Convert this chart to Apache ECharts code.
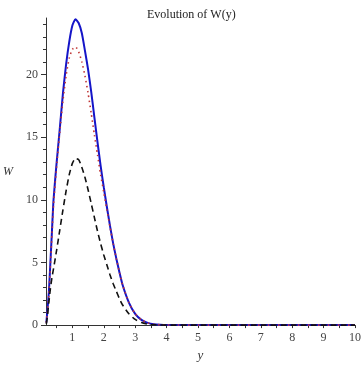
<!DOCTYPE html>
<html>
<head>
<meta charset="utf-8">
<script src="https://cdn.jsdelivr.net/npm/echarts@6/dist/echarts.min.js"></script>
<style>html,body{margin:0;padding:0;background:#fff}#c{width:364px;height:367px}</style>
</head>
<body>
<div id="c"></div>
<script>
var xs = [0.17,0.2,0.25,0.3,0.35,0.4,0.5,0.6,0.7,0.8,0.9,1.0,1.1,1.2,1.3,1.4,1.5,1.6,1.7,1.8,1.9,2.0,2.1,2.2,2.3,2.4,2.5,2.6,2.8,3.0,3.2,3.4,3.6,3.8,4.0,5,6,7,8,9,10];
var blueW = [0.2,1.0,2.6,5.0,7.5,10.0,13.0,15.7,18.5,20.8,22.6,23.9,24.4,24.1,23.3,21.9,20.4,18.6,16.6,14.6,12.7,11.0,9.4,7.9,6.5,5.3,4.2,3.2,1.8,0.9,0.42,0.18,0.07,0.03,0.01,0,0,0,0,0,0];
var redW = [0.2,0.9,2.4,4.7,7.2,9.6,12.7,15.4,17.9,19.9,21.3,22.0,22.2,21.8,21.0,19.9,18.5,16.9,15.2,13.6,12.0,10.6,9.2,7.8,6.5,5.3,4.2,3.2,1.8,0.9,0.42,0.18,0.07,0.03,0.01,0,0,0,0,0,0];
var blackW = [0.1,0.6,1.8,2.9,3.8,4.5,6.0,7.6,9.2,10.7,12.0,12.9,13.3,13.2,12.6,11.8,10.8,9.7,8.6,7.5,6.5,5.6,4.8,4.0,3.3,2.7,2.1,1.6,0.9,0.45,0.2,0.08,0.03,0.01,0,0,0,0,0,0,0];
var xTickLabels = [1,2,3,4,5,6,7,8,9,10];
var xTicks = [0.5,1,1.5,2,2.5,3,3.5,4,4.5,5,5.5,6,6.5,7,7.5,8,8.5,9,9.5,10];
var yTickLabels = [0,5,10,15,20];
var yMinorTicks = [1,2,3,4,6,7,8,9,11,12,13,14,16,17,18,19,21,22,23,24];

function pairs(ys){ return xs.map(function(x,i){ return [x, ys[i]]; }); }
var serif = 'Liberation Serif';
var chart = echarts.init(document.getElementById('c'), null, {renderer:'canvas'});
chart.setOption({
  animation: false,
  backgroundColor: '#fff',
  title: {
    text: 'Evolution of W(y)', left: 142, top: 4,
    textStyle: {fontFamily: serif, fontSize: 12, fontWeight: 'normal', color: '#222'}
  },
  grid: {left: 44, right: 3, top: 18, bottom: 35},
  xAxis: [{
    type: 'value', min: 0.16, max: 10,
    name: 'y', nameLocation: 'middle', nameGap: 19,
    nameTextStyle: {fontFamily: serif, fontStyle: 'italic', fontSize: 13, color: '#333'},
    axisLine: {show: true, lineStyle: {color: '#333', width: 1}},
    axisTick: {show: true, length: 3, customValues: xTicks, lineStyle: {color: '#333'}},
    axisLabel: {customValues: xTickLabels, fontFamily: serif, fontSize: 12, color: '#444', margin: 7},
    splitLine: {show: false}
  }],
  yAxis: [{
    type: 'value', min: 0, max: 24.5,
    name: 'W', nameLocation: 'middle', nameGap: 33, nameRotate: 0,
    nameTextStyle: {fontFamily: serif, fontStyle: 'italic', fontSize: 12, color: '#333'},
    axisLine: {show: true, lineStyle: {color: '#333', width: 1}},
    axisTick: {show: true, length: 5, customValues: yTickLabels, lineStyle: {color: '#333'}},
    axisLabel: {customValues: yTickLabels, fontFamily: serif, fontSize: 12, color: '#444', margin: 8},
    splitLine: {show: false}
  }, {
    type: 'value', min: 0, max: 24.5, position: 'left',
    axisLine: {show: false},
    axisTick: {show: true, length: 3, customValues: yMinorTicks, lineStyle: {color: '#333'}},
    axisLabel: {show: false},
    splitLine: {show: false}
  }],
  series: [{
    type: 'line', data: pairs(blueW), showSymbol: false, smooth: 0.2,
    lineStyle: {color: '#1515c8', width: 2}
  }, {
    type: 'line', data: pairs(redW), showSymbol: false, smooth: 0.2,
    lineStyle: {color: '#c03535', width: 1.6, type: [1.5, 3.5]}
  }, {
    type: 'line', data: pairs(blackW), showSymbol: false, smooth: 0.2,
    lineStyle: {color: '#111', width: 1.6, type: [6, 4]}
  }]
});
</script>
</body>
</html>
